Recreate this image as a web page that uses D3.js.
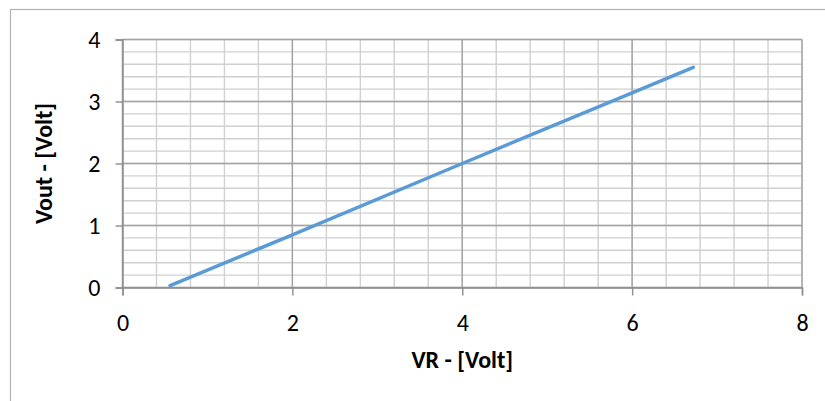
<!DOCTYPE html>
<html><head><meta charset="utf-8">
<script src="https://cdn.jsdelivr.net/npm/d3@7"></script>
<style>
html,body{margin:0;padding:0;background:#fff;}
svg{display:block;}
</style></head>
<body>
<svg id="chart" width="825" height="401"></svg>
<script>
// Data
const vrValues   = [0.56, 2.0, 4.0, 6.0, 6.72];
const voutValues = [0.03, 0.85, 2.0, 3.14, 3.55];
const xTickValues = [0, 2, 4, 6, 8];
const yTickValues = [0, 1, 2, 3, 4];
const xMinorStep = 0.4;
const yMinorStep = 0.2;
const xTitle = "VR - [Volt]";
const yTitle = "Vout - [Volt]";

const W = 825, H = 401;
const plot = {left: 122.5, right: 802, top: 39.5, bottom: 287.5};
const svg = d3.select("#chart");
const font = "Calibri, Carlito, 'Open Sans', sans-serif";

// outer chart border
svg.append("rect").attr("x", 10.5).attr("y", 9.5).attr("width", W).attr("height", H)
  .attr("fill", "#fff").attr("stroke", "#b3b3b3").attr("stroke-width", 1.2);

const x = d3.scaleLinear().domain([0, 8]).range([plot.left, plot.right]);
const y = d3.scaleLinear().domain([0, 4]).range([plot.bottom, plot.top]);

const xMinor = d3.range(0, 8 + 1e-9, xMinorStep);
const yMinor = d3.range(0, 4 + 1e-9, yMinorStep);

const grid = svg.append("g");
grid.selectAll("line.vx").data(xMinor).join("line")
  .attr("x1", d => x(d)).attr("x2", d => x(d))
  .attr("y1", plot.top).attr("y2", plot.bottom)
  .attr("stroke", "#d0d0d0").attr("stroke-width", 1.4);
grid.selectAll("line.hy").data(yMinor).join("line")
  .attr("y1", d => y(d)).attr("y2", d => y(d))
  .attr("x1", plot.left).attr("x2", plot.right)
  .attr("stroke", "#d0d0d0").attr("stroke-width", 1.4);
grid.selectAll("line.vmaj").data(xTickValues).join("line")
  .attr("x1", d => x(d)).attr("x2", d => x(d))
  .attr("y1", plot.top).attr("y2", plot.bottom)
  .attr("stroke", "#a3a3a3").attr("stroke-width", 1.4);
grid.selectAll("line.hmaj").data(yTickValues).join("line")
  .attr("y1", d => y(d)).attr("y2", d => y(d))
  .attr("x1", plot.left).attr("x2", plot.right)
  .attr("stroke", "#a3a3a3").attr("stroke-width", 1.4);

// axes
const yAxis = d3.axisLeft(y).tickValues(yTickValues).tickSize(7).tickPadding(15).tickFormat(d3.format("d"));
const gy = svg.append("g").attr("transform", `translate(${plot.left},0)`).call(yAxis);
gy.select(".domain").attr("stroke", "#8c8c8c").attr("stroke-width", 1.4);
gy.selectAll(".tick line").attr("stroke", "#8c8c8c").attr("stroke-width", 1.4);
gy.selectAll(".tick text").attr("fill", "#000").style("font-family", font).style("font-size", "24px");

const xAxis = d3.axisBottom(x).tickValues(xTickValues).tickSize(8).tickFormat(d3.format("d"));
const gx = svg.append("g").attr("transform", `translate(0,${plot.bottom})`).call(xAxis);
gx.select(".domain").attr("stroke", "#8c8c8c").attr("stroke-width", 1.4);
gx.selectAll(".tick line").attr("stroke", "#8c8c8c").attr("stroke-width", 1.4);
gx.selectAll(".tick text").attr("fill", "#000").attr("dy", null).attr("y", 43.5)
  .style("font-family", font).style("font-size", "24px");

// series line
const pts = vrValues.map((v, i) => [v, voutValues[i]]);
svg.append("path").datum(pts)
  .attr("d", d3.line().x(d => x(d[0])).y(d => y(d[1])))
  .attr("fill", "none").attr("stroke", "#5B9BD5").attr("stroke-width", 3.5)
  .attr("stroke-linecap", "round").attr("stroke-linejoin", "round");

// axis titles
svg.append("text").attr("x", (plot.left + plot.right) / 2).attr("y", 368)
  .attr("text-anchor", "middle").style("font-family", font).style("font-size", "24px")
  .style("font-weight", "bold").text(xTitle);
svg.append("text").attr("transform", `translate(52,${(plot.top + plot.bottom) / 2}) rotate(-90)`)
  .attr("text-anchor", "middle").style("font-family", font).style("font-size", "24px")
  .style("font-weight", "bold").text(yTitle);
</script>
</body></html>
